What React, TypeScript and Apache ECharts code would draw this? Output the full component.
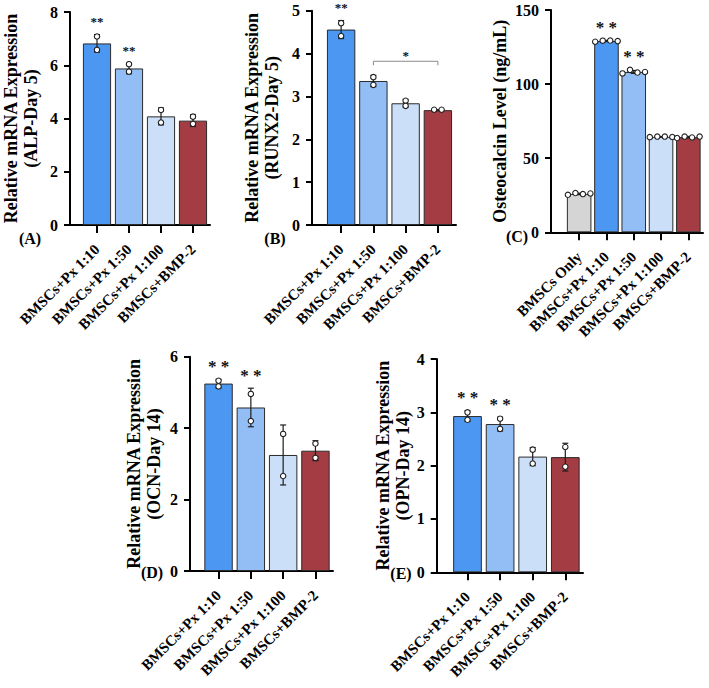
import React, { useEffect, useRef } from 'react';
import * as echarts from 'echarts';

const FONT = '"Liberation Serif", "Times New Roman", Times, serif';

// ---- categories ----
const groupsPx = ['BMSCs+Px 1:10', 'BMSCs+Px 1:50', 'BMSCs+Px 1:100', 'BMSCs+BMP-2'];
const groupsOc = ['BMSCs Only', 'BMSCs+Px 1:10', 'BMSCs+Px 1:50', 'BMSCs+Px 1:100', 'BMSCs+BMP-2'];

// ---- (A) ALP, day 5 ----
const alpMean = [6.82, 5.88, 4.08, 3.92];
const alpSd = [0.33, 0.2, 0.32, 0.22];
const alpPoints = [[7.08, 6.58], [6.04, 5.76], [4.32, 3.85], [4.07, 3.8]];
const alpSig = ['**', '**', '', ''];

// ---- (B) RUNX2, day 5 ----
const runxMean = [4.56, 3.36, 2.84, 2.68];
const runxSd = [0.21, 0.13, 0.09, 0.01];
const runxPoints = [[4.71, 4.41], [3.45, 3.27], [2.9, 2.78], [2.69, 2.69]];
const runxSig = ['**', '', '', ''];
const runxBracket = { from: 1, to: 3, level: 3.82, mark: '*' };

// ---- (C) Osteocalcin ELISA ----
const ocMean = [25.9, 129.1, 108.2, 64.4, 64.2];
const ocSd = [0.5, 0.4, 1.0, 0.2, 0.5];
const ocPoints = [
  [25.3, 26.5, 25.8, 26.2],
  [128.6, 129.3, 129.4, 129.0],
  [107.2, 109.6, 107.8, 108.2],
  [64.2, 64.6, 64.6, 64.3],
  [63.6, 64.6, 64.0, 64.6],
];
const ocSig = ['', '* *', '* *', '', ''];

// ---- (D) OCN, day 14 ----
const ocnMean = [5.25, 4.58, 3.25, 3.37];
const ocnSd = [0.12, 0.54, 0.84, 0.28];
const ocnPoints = [[5.33, 5.17], [4.96, 4.2], [3.84, 2.66], [3.57, 3.17]];
const ocnSig = ['* *', '* *', '', ''];

// ---- (E) OPN, day 14 ----
const opnMean = [2.93, 2.78, 2.17, 2.16];
const opnSd = [0.1, 0.13, 0.17, 0.26];
const opnPoints = [[3.0, 2.86], [2.88, 2.69], [2.3, 2.04], [2.35, 1.98]];
const opnSig = ['* *', '* *', '', ''];

// ---- colours ----
const BLUE = '#4b97f1';
const BLUE_MID = '#93bef5';
const BLUE_LIGHT = '#cbdff8';
const RED = '#a43d43';
const GREY = '#d5d5d5';
const pxColors = [BLUE, BLUE_MID, BLUE_LIGHT, RED];
const ocColors = [GREY, BLUE, BLUE_MID, BLUE_LIGHT, RED];

type Panel = {
  tag: string;
  cats: string[];
  mean: number[];
  sd: number[];
  points: number[][];
  sig: string[];
  colors: string[];
  max: number;
  interval: number;
  title: string;
  bracket?: { from: number; to: number; level: number; mark: string };
  // layout (pixels)
  axisX: number;
  axisRight: number;
  bandStart: number;
  bandEnd: number;
  top: number;
  base: number;
  nameGap: number;
  barWidth: string;
  sigSize: number;
  tagX: number;
  tagY: number;
};

const panels: Panel[] = [
  {
    tag: '(A)', cats: groupsPx, mean: alpMean, sd: alpSd, points: alpPoints, sig: alpSig,
    colors: pxColors, max: 8, interval: 2, title: 'Relative mRNA Expression\n(ALP-Day 5)',
    axisX: 68, axisRight: 210, bandStart: 81, bandEnd: 209, top: 12, base: 225,
    nameGap: 29, barWidth: '88%', sigSize: 13, tagX: 30, tagY: 238,
  },
  {
    tag: '(B)', cats: groupsPx, mean: runxMean, sd: runxSd, points: runxPoints, sig: runxSig,
    colors: pxColors, max: 5, interval: 1, title: 'Relative mRNA Expression\n(RUNX2-Day 5)',
    bracket: runxBracket,
    axisX: 312, axisRight: 456, bandStart: 325, bandEnd: 454, top: 10.7, base: 225,
    nameGap: 30, barWidth: '88%', sigSize: 13, tagX: 275, tagY: 238,
  },
  {
    tag: '(C)', cats: groupsOc, mean: ocMean, sd: ocSd, points: ocPoints, sig: ocSig,
    colors: ocColors, max: 150, interval: 50, title: 'Osteocalcin Level (ng/mL)',
    axisX: 551, axisRight: 703, bandStart: 565.5, bandEnd: 702, top: 10, base: 232.3,
    nameGap: 41, barWidth: '90%', sigSize: 17, tagX: 517, tagY: 236,
  },
  {
    tag: '(D)', cats: groupsPx, mean: ocnMean, sd: ocnSd, points: ocnPoints, sig: ocnSig,
    colors: pxColors, max: 6, interval: 2, title: 'Relative mRNA Expression\n(OCN-Day 14)',
    axisX: 190, axisRight: 333, bandStart: 202.4, bandEnd: 331.6, top: 356.8, base: 571,
    nameGap: 26, barWidth: '88%', sigSize: 17, tagX: 152, tagY: 572,
  },
  {
    tag: '(E)', cats: groupsPx, mean: opnMean, sd: opnSd, points: opnPoints, sig: opnSig,
    colors: pxColors, max: 4, interval: 1, title: 'Relative mRNA Expression\n(OPN-Day 14)',
    axisX: 436.7, axisRight: 583, bandStart: 451.2, bandEnd: 581.6, top: 359, base: 572.3,
    nameGap: 24, barWidth: '88%', sigSize: 17, tagX: 401, tagY: 573,
  },
];

const INK = '#1e1e1e';

function buildOption() {
  const grid: any[] = [];
  const xAxis: any[] = [];
  const yAxis: any[] = [];
  const series: any[] = [];
  const graphic: any[] = [];

  panels.forEach((p, i) => {
    const frame = 2 * i;
    const bars = 2 * i + 1;
    const h = p.base - p.top;

    // frame grid: carries the y axis and the full-length x axis line
    grid.push({ left: p.axisX, top: p.top, width: p.axisRight - p.axisX, height: h });
    // bar grid: the category band, set in from the y axis
    grid.push({ left: p.bandStart, top: p.top, width: p.bandEnd - p.bandStart, height: h });

    xAxis.push({
      gridIndex: frame, type: 'value', min: 0, max: 1,
      axisLine: { show: true, onZero: false, lineStyle: { color: '#000', width: 2 } },
      axisTick: { show: false }, axisLabel: { show: false }, splitLine: { show: false },
    });
    xAxis.push({
      gridIndex: bars, type: 'category', data: p.cats,
      axisLine: { show: false },
      axisTick: { show: true, alignWithLabel: true, length: 8, lineStyle: { color: '#000', width: 2 } },
      axisLabel: {
        interval: 0, rotate: 45, margin: 22, color: '#000',
        fontFamily: FONT, fontWeight: 'bold', fontSize: 15,
      },
      splitLine: { show: false },
    });

    yAxis.push({
      gridIndex: frame, type: 'value', min: 0, max: p.max, interval: p.interval,
      axisLine: { show: true, lineStyle: { color: '#000', width: 2 } },
      axisTick: { show: true, length: 6, lineStyle: { color: '#000', width: 2 } },
      axisLabel: { margin: 12, color: '#000', fontFamily: FONT, fontWeight: 'bold', fontSize: 16 },
      splitLine: { show: false },
      name: p.title, nameLocation: 'middle', nameRotate: 90, nameGap: p.nameGap,
      nameTextStyle: { fontFamily: FONT, fontWeight: 'bold', fontSize: 18, lineHeight: 20, color: '#000' },
    });
    yAxis.push({ gridIndex: bars, type: 'value', min: 0, max: p.max, show: false });

    series.push({
      type: 'bar', xAxisIndex: bars, yAxisIndex: bars, barWidth: p.barWidth, silent: true,
      itemStyle: { borderColor: '#2b2b2b', borderWidth: 1 },
      data: p.mean.map((v, k) => ({ value: v, itemStyle: { color: p.colors[k] } })),
      z: 2,
    });

    // mean ± SD error bars
    series.push({
      type: 'custom', xAxisIndex: bars, yAxisIndex: bars, silent: true, z: 3,
      data: p.mean.map((m, k) => [k, m, p.sd[k]]),
      renderItem: (_params: any, api: any) => {
        const k = api.value(0);
        const m = api.value(1);
        const s = api.value(2);
        const t = api.coord([k, m + s]);
        const b = api.coord([k, m - s]);
        const cw = 3;
        const st = { stroke: INK, lineWidth: 1.2 };
        return {
          type: 'group',
          children: [
            { type: 'line', shape: { x1: t[0], y1: t[1], x2: b[0], y2: b[1] }, style: st },
            { type: 'line', shape: { x1: t[0] - cw, y1: t[1], x2: t[0] + cw, y2: t[1] }, style: st },
            { type: 'line', shape: { x1: b[0] - cw, y1: b[1], x2: b[0] + cw, y2: b[1] }, style: st },
          ],
        };
      },
    });

    // replicate points
    series.push({
      type: 'custom', xAxisIndex: bars, yAxisIndex: bars, silent: true, z: 4,
      data: p.mean.map((m, k) => [k, m]),
      renderItem: (params: any, api: any) => {
        const k = params.dataIndex;
        const pts = p.points[k];
        const cs = pts.map((v) => api.coord([k, v]));
        const ys = cs.map((c) => c[1]);
        const tight = Math.max(...ys) - Math.min(...ys) < 4;
        const n = pts.length;
        return {
          type: 'group',
          children: cs.map((c, j) => ({
            type: 'circle',
            shape: { cx: c[0] + (tight ? (j - (n - 1) / 2) * 7.5 : 0), cy: c[1], r: 2.7 },
            style: { fill: '#fff', stroke: INK, lineWidth: 1.1 },
          })),
        };
      },
    });

    // significance marks above each group
    series.push({
      type: 'custom', xAxisIndex: bars, yAxisIndex: bars, silent: true, z: 5,
      data: p.mean.map((m, k) => [k, m]),
      renderItem: (params: any, api: any) => {
        const k = params.dataIndex;
        const label = p.sig[k];
        if (!label) return null;
        const topVal = Math.max(p.mean[k] + p.sd[k], ...p.points[k]);
        const c = api.coord([k, topVal]);
        return {
          type: 'text', x: c[0], y: c[1] - 13,
          style: {
            text: label, fill: '#111', align: 'center', verticalAlign: 'middle',
            textAlign: 'center', textVerticalAlign: 'middle',
            fontFamily: FONT, fontWeight: 'bold', fontSize: p.sigSize,
          },
        };
      },
    });

    if (p.bracket) {
      const br = p.bracket;
      series.push({
        type: 'custom', xAxisIndex: bars, yAxisIndex: bars, silent: true, z: 5,
        data: [[br.from, br.to, br.level]],
        renderItem: (_params: any, api: any) => {
          const a = api.coord([api.value(0), api.value(2)]);
          const b = api.coord([api.value(1), api.value(2)]);
          return {
            type: 'group',
            children: [
              {
                type: 'polyline',
                shape: { points: [[a[0], a[1] + 4], [a[0], a[1]], [b[0], b[1]], [b[0], b[1] + 4]] },
                style: { stroke: '#8a8a8a', lineWidth: 1, fill: null },
              },
              {
                type: 'text', x: (a[0] + b[0]) / 2, y: a[1] - 6,
                style: {
                  text: br.mark, fill: '#111', align: 'center', verticalAlign: 'middle',
                  textAlign: 'center', textVerticalAlign: 'middle',
                  fontFamily: FONT, fontWeight: 'bold', fontSize: 13,
                },
              },
            ],
          };
        },
      });
    }

    graphic.push({
      type: 'text', x: p.tagX, y: p.tagY, silent: true,
      style: {
        text: p.tag, fill: '#000', align: 'center', verticalAlign: 'middle',
        textAlign: 'center', textVerticalAlign: 'middle',
        fontFamily: FONT, fontWeight: 'bold', fontSize: 16,
      },
    });
  });

  return {
    animation: false,
    backgroundColor: '#fff',
    grid, xAxis, yAxis, series, graphic,
  };
}

export default function App() {
  const ref = useRef<HTMLDivElement>(null);
  useEffect(() => {
    if (!ref.current) return;
    const chart = echarts.init(ref.current, undefined, { renderer: 'svg' });
    chart.setOption(buildOption() as any);
    return () => chart.dispose();
  }, []);
  return (
    <div
      ref={ref}
      style={{ position: 'absolute', left: 0, top: 0, width: 709, height: 688, background: '#fff' }}
    />
  );
}
